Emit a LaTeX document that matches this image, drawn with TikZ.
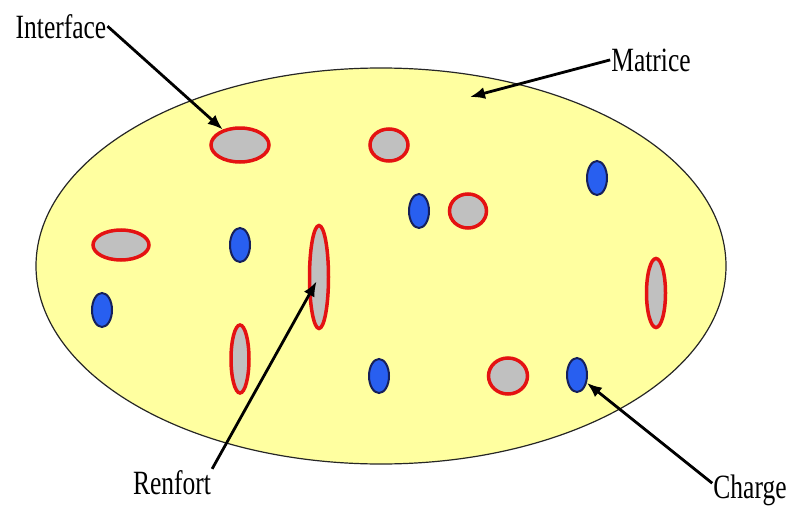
\documentclass[tikz,border=0pt]{standalone}
\usepackage{fontspec}
\setmainfont{Liberation Serif}
\usetikzlibrary{shapes.geometric, arrows.meta}

\definecolor{matrixyellow}{RGB}{255,255,160}
\definecolor{ringred}{RGB}{228,18,18}
\definecolor{fibergray}{RGB}{192,192,192}
\definecolor{chargeblue}{RGB}{40,95,240}
\definecolor{chargenavy}{RGB}{22,32,90}

\newcommand{\narrowtext}[1]{\scalebox{0.75}[1]{#1}}

\begin{document}
\begin{tikzpicture}[
        x=1pt, y=-1pt,
        matrix_node/.style={draw=black!85, ellipse, minimum width=690pt, minimum height=396pt, fill=matrixyellow, line width=1.2pt, inner sep=0pt},
        fiber_node/.style={draw=ringred, ellipse, fill=fibergray, line width=3.5pt, inner sep=0pt},
        charge_node/.style={draw=chargenavy, ellipse, fill=chargeblue, line width=2pt, inner sep=0pt, minimum width=20pt, minimum height=34pt},
        label_node/.style={anchor=base, inner sep=1pt, font=\fontsize{34}{34}\selectfont},
        arrow/.style={-{Latex[length=15pt, width=12pt]}, line width=2.8pt, draw=black}
    ]
        \useasboundingbox (0,0) rectangle (790,506);

        % Matrix
        \node (matrice) [matrix_node] at (381,266) {};

        % Reinforcements with interface
        \node (fiber1) [fiber_node, minimum width=58pt, minimum height=34pt] at (240,145) {};
        \node (fiber2) [fiber_node, minimum width=38pt, minimum height=32pt] at (389,145) {};
        \node (fiber3) [fiber_node, minimum width=37pt, minimum height=34pt] at (468,211) {};
        \node (fiber4) [fiber_node, minimum width=56pt, minimum height=30pt] at (121,245) {};
        \node (fiber5) [fiber_node, minimum width=19pt, minimum height=103pt] at (319,277) {};
        \node (fiber6) [fiber_node, minimum width=18pt, minimum height=68pt] at (240,359) {};
        \node (fiber7) [fiber_node, minimum width=19pt, minimum height=69pt] at (656,293) {};
        \node (fiber8) [fiber_node, minimum width=39pt, minimum height=36pt] at (508,376) {};

        % Fillers
        \node (charge1) [charge_node] at (240,245) {};
        \node (charge2) [charge_node] at (102,310) {};
        \node (charge3) [charge_node] at (419,211) {};
        \node (charge4) [charge_node] at (597,178) {};
        \node (charge5) [charge_node] at (379,376) {};
        \node (charge6) [charge_node] at (577,375) {};

        % Labels
        \node (interface_label) [label_node] at (61,38) {\narrowtext{Interface}};
        \node (matrice_label) [label_node] at (651,71) {\narrowtext{Matrice}};
        \node (renfort_label) [label_node] at (172,494) {\narrowtext{Renfort}};
        \node (charge_label) [label_node] at (750,498) {\narrowtext{Charge}};
        \coordinate (matrice_tip) at (470,97);

        % Arrows
        \draw [arrow] (interface_label.east) -- (fiber1);
        \draw [arrow] (matrice_label.west) -- (matrice_tip);
        \draw [arrow, shorten >=5pt] (renfort_label.north east) -- (fiber5.center);
        \draw [arrow] (charge_label.170) -- (charge6);
    \end{tikzpicture}
\end{document}
